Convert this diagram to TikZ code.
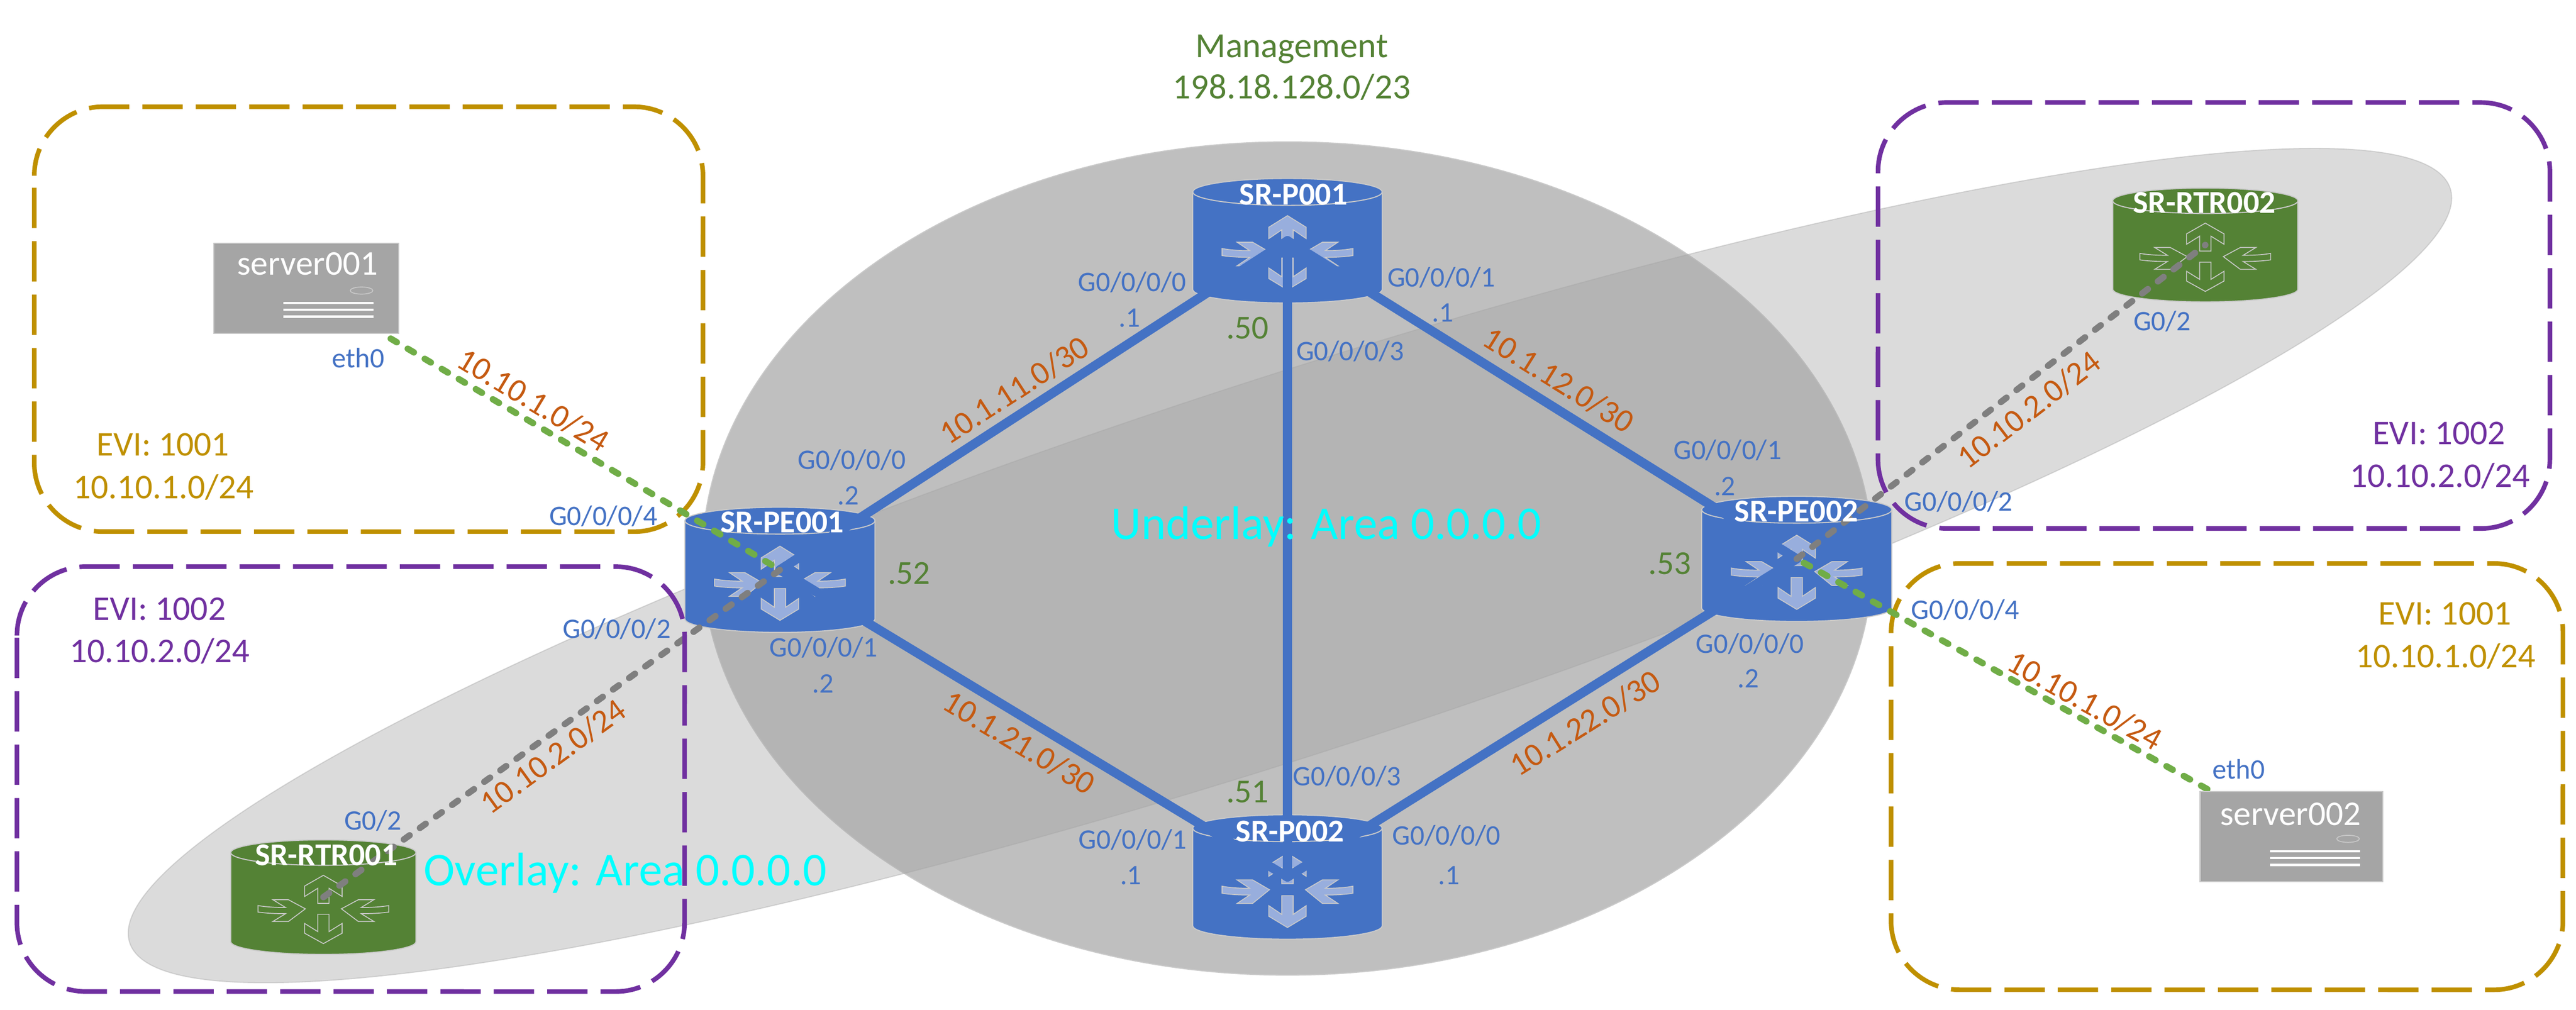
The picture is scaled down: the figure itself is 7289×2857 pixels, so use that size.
\documentclass[tikz,border=0pt]{standalone}
\usepackage{fontspec}
\setmainfont{Carlito}
\definecolor{cBlue}{HTML}{4472C4}
\definecolor{cLight}{HTML}{98AEDD}
\definecolor{cGreen}{HTML}{548235}
\definecolor{cLink}{HTML}{70AD47}
\definecolor{cGrey}{HTML}{7F7F7F}
\definecolor{cGold}{HTML}{BF9000}
\definecolor{cPurple}{HTML}{7030A0}
\definecolor{cOrange}{HTML}{C55A11}
\definecolor{cEdge}{HTML}{C9C9C9}
\definecolor{cSrv}{HTML}{A5A5A5}
\definecolor{cCyan}{HTML}{00FFFF}
\newcounter{lab}
\newcommand\lbl[4][]{\stepcounter{lab}\node[#1] (lab\arabic{lab}) at (#2,#3) {#4};}
\tikzset{
  lbase/.style={inner sep=0pt,outer sep=0pt},
  portlbl/.style={lbase,text=cBlue,font=\fontsize{22.76}{27}\selectfont},
  iplbl/.style={lbase,text=cGreen,font=\fontsize{27}{32}\selectfont},
  netlbl/.style={lbase,text=cOrange,font=\fontsize{26.4}{31}\selectfont,anchor=center},
  mgmtlbl/.style={lbase,text=cGreen,font=\fontsize{28.45}{34}\selectfont,anchor=base},
  evigold/.style={lbase,text=cGold,font=\fontsize{27.9}{34}\selectfont,anchor=base},
  evipurple/.style={lbase,text=cPurple,font=\fontsize{27.9}{34}\selectfont,anchor=base},
  arealbl/.style={lbase,text=cCyan,font=\fontsize{37.84}{45}\selectfont},
  namelbl/.style={lbase,text=white,font=\bfseries\fontsize{25.6}{30}\selectfont,anchor=base},
  srvlbl/.style={lbase,text=white,font=\fontsize{27.9}{33}\selectfont,anchor=base west},
  evibox/.style={line width=0.13cm,dash pattern=on 1.14cm off 0.37cm},
  corelink/.style={cBlue,line width=0.26cm,line cap=round},
  greylink/.style={cGrey,line width=0.18cm,line cap=round,dash pattern=on 0.2cm off 0.36cm},
  greenlink/.style={cLink,line width=0.18cm,line cap=round,dash pattern=on 0.2cm off 0.36cm},
  iconshape/.style={draw=cEdge,line width=0.025cm,line join=miter},
  srvbox/.style={rectangle,draw=cEdge,line width=0.03cm,fill=cSrv,minimum height=2.54cm,inner sep=0pt},
}
% #1 box options, #2 left, #3 top, #4 right, #5 bottom
\newcommand\eviframe[5]{\draw[evibox,#1] (#2,{#3+195}) arc[start angle=180,end angle=90,radius=1.95cm] -- ({#4-195},#3) arc[start angle=90,end angle=0,radius=1.95cm] -- (#4,{#5-195}) arc[start angle=0,end angle=-90,radius=1.95cm] -- ({#2+195},#5) arc[start angle=-90,end angle=-180,radius=1.95cm] -- cycle;}
% #1 name, #2 cx, #3 cy, #4 half width, #5 half height, #6 ry, #7 fill
\newcommand\cyl[7]{%
  \coordinate (#1) at (#2,#3);
  \begin{scope}[shift={(#1)}]
    \filldraw[draw=cEdge,line width=0.03cm,fill=#7] (-#4,{-#5+#6}) arc[start angle=180,end angle=0,x radius=#4*0.01cm,y radius=#6*0.01cm]
      -- (#4,{#5-#6}) arc[start angle=0,end angle=-180,x radius=#4*0.01cm,y radius=#6*0.01cm] -- cycle;
    \draw[draw=cEdge,line width=0.03cm] (-#4,{-#5+#6}) arc[start angle=180,end angle=360,x radius=#4*0.01cm,y radius=#6*0.01cm];
  \end{scope}}
% #1 cx, #2 cy, #3 yscale, #4 fill option
\newcommand\rticon[4]{%
  \begin{scope}[shift={(#1,#2)},yscale=#3]
    \path[iconshape,#4] (0,-103) -- (53,-70) -- (53,-38) -- (16,-63) -- (16,-17) -- (-16,-17) -- (-16,-63) -- (-53,-38) -- (-53,-70) -- cycle;
    \path[iconshape,#4] (0,107) -- (53,75) -- (53,45) -- (16,70) -- (16,17) -- (-16,17) -- (-16,70) -- (-53,45) -- (-53,75) -- cycle;
    \path[iconshape,#4] (-185,-10) .. controls (-160,-5) and (-130,-4) .. (-107,-4) -- (-143,-28) -- (-99,-28) -- (-51,0) -- (-99,39) -- (-143,39) -- (-107,15) .. controls (-130,15) and (-160,14) .. (-185,10) -- cycle;
    \path[iconshape,#4] (185,-10) .. controls (160,-5) and (130,-4) .. (107,-4) -- (143,-28) -- (99,-28) -- (51,0) -- (99,39) -- (143,39) -- (107,15) .. controls (130,15) and (160,14) .. (185,10) -- cycle;
  \end{scope}}
% #1 name, #2 left, #3 top, #4 width
\newcommand\server[4]{%
  \node[srvbox,minimum width=#4,anchor=north west] (#1) at (#2,#3) {};
  \begin{scope}[shift={(#1.north west)}]
    \draw[cEdge,line width=0.025cm] (420,135) ellipse[x radius=0.32cm,y radius=0.1cm];
    \foreach \yy in {170,189,209}{\draw[white,line width=0.065cm] (199,\yy) -- (454,\yy);}
  \end{scope}}
\begin{document}
\begin{tikzpicture}[x=0.01cm,y=-0.01cm]
\useasboundingbox (0,0) rectangle (7289,2857);
\fill[white] (0,0) rectangle (7289,2857);
% area ellipses
\filldraw[draw=cEdge,line width=0.03cm,fill=black!25] (3643,1580) ellipse[x radius=16.55cm,y radius=11.78cm];
\begin{scope}[shift={(3650,1600)},rotate=18]
\filldraw[draw=cSrv,draw opacity=.4,fill=cSrv,fill opacity=.4,line width=0.03cm] (0,0) ellipse[x radius=34.5cm,y radius=5.3cm];
\end{scope}
% gold frames
\eviframe{cGold,dash phase=0.36cm}{97}{302}{1989}{1504}
\eviframe{cGold,dash phase=0.15cm}{5351}{1594}{7252}{2800}
% routers
\cyl{p1}{3643}{681}{268}{176}{38}{cBlue}
\cyl{p2}{3643}{2481}{268}{176}{38}{cBlue}
\cyl{pe1}{2207}{1612}{269}{177}{38}{cBlue}
\cyl{pe2}{5084}{1581}{269}{177}{38}{cBlue}
\cyl{rt1}{915}{2538}{262}{162}{36}{cGreen}
\cyl{rt2}{6240}{693}{262}{161}{36}{cGreen}
\rticon{3643}{713}{1}{fill=cLight}
\rticon{3643}{2517}{1}{fill=cLight}
\rticon{2207}{1648}{1}{fill=cLight}
\rticon{5084}{1617}{1}{fill=cLight}
\rticon{915}{2571}{.92}{}
\rticon{6240}{726}{.92}{}
% left server
\server{s1}{603}{687}{5.23cm}
\coordinate (s2) at (6482,2365);
% core links
\draw[corelink] (pe1) -- (p1);
\draw[corelink] (p1) -- (pe2);
\draw[corelink] (pe1) -- (p2);
\draw[corelink] (p2) -- (pe2);
\draw[corelink] (p1) -- (p2);
% access links
\draw[greylink] (rt1) -- (pe1);
\draw[greylink] (pe2) -- (rt2);
\draw[greenlink,dash phase=0.29cm] (s1) -- (pe1);
\draw[greenlink,dash phase=0.33cm] (pe2) -- (s2);
% right server covers the end of its link
\server{s2box}{6224}{2238}{5.16cm}
% purple frames
\eviframe{cPurple,dash phase=0.14cm}{48}{1603}{1937}{2805}
\eviframe{cPurple,dash phase=0.2cm}{5314}{290}{7215}{1495}
% router names
\lbl[namelbl]{3660}{580}{SR-P001}
\lbl[namelbl]{3650}{2382}{SR-P002}
\lbl[namelbl]{2213}{1507}{SR-PE001}
\lbl[namelbl]{5083}{1476}{SR-PE002}
\lbl[namelbl]{923}{2448}{SR-RTR001}
\lbl[namelbl]{6237}{603}{SR-RTR002}
\lbl[srvlbl]{671}{778}{server001}
\lbl[srvlbl]{6282}{2335}{server002}
% top label
\lbl[mgmtlbl]{3655}{163}{Management}
\lbl[mgmtlbl]{3655}{279}{198.18.128.0/23}
% EVI labels
\lbl[evigold]{461}{1289}{EVI: 1001}
\lbl[evigold]{463}{1410}{10.10.1.0/24}
\lbl[evipurple]{451}{1755}{EVI: 1002}
\lbl[evipurple]{452}{1874}{10.10.2.0/24}
\lbl[evipurple]{6901}{1258}{EVI: 1002}
\lbl[evipurple]{6904}{1378}{10.10.2.0/24}
\lbl[evigold]{6918}{1768}{EVI: 1001}
\lbl[evigold]{6920}{1889}{10.10.1.0/24}
% area labels
\lbl[arealbl,anchor=base]{3753}{1525}{Underlay: Area 0.0.0.0}
\lbl[arealbl,anchor=base west]{1199}{2505}{Overlay: Area 0.0.0.0}
% port labels
\lbl[portlbl,anchor=base east]{3356}{825}{G0/0/0/0}
\lbl[portlbl,anchor=base east]{3226}{925}{.1}
\lbl[portlbl,anchor=base west]{3926}{811}{G0/0/0/1}
\lbl[portlbl,anchor=base west]{4052}{911}{.1}
\lbl[portlbl,anchor=base west]{3668}{1020}{G0/0/0/3}
\lbl[portlbl,anchor=base east]{2563}{1327}{G0/0/0/0}
\lbl[portlbl,anchor=base east]{2431}{1428}{.2}
\lbl[portlbl,anchor=base east]{2483}{1858}{G0/0/0/1}
\lbl[portlbl,anchor=base]{2329}{1960}{.2}
\lbl[portlbl,anchor=base east]{1860}{1486}{G0/0/0/4}
\lbl[portlbl,anchor=base east]{1898}{1805}{G0/0/0/2}
\lbl[portlbl,anchor=base east]{3358}{2402}{G0/0/0/1}
\lbl[portlbl,anchor=base east]{3230}{2502}{.1}
\lbl[portlbl,anchor=base west]{3659}{2223}{G0/0/0/3}
\lbl[portlbl,anchor=base west]{3940}{2390}{G0/0/0/0}
\lbl[portlbl,anchor=base west]{4070}{2502}{.1}
\lbl[portlbl,anchor=base east]{4911}{1401}{.2}
\lbl[portlbl,anchor=base east]{5041}{1300}{G0/0/0/1}
\lbl[portlbl,anchor=base east]{5104}{1848}{G0/0/0/0}
\lbl[portlbl,anchor=base]{4947}{1945}{.2}
\lbl[portlbl,anchor=base west]{5389}{1446}{G0/0/0/2}
\lbl[portlbl,anchor=base west]{5408}{1752}{G0/0/0/4}
\lbl[portlbl,anchor=base west]{939}{1040}{eth0}
\lbl[portlbl,anchor=base west]{6260}{2203}{eth0}
\lbl[portlbl,anchor=base west]{974}{2348}{G0/2}
\lbl[portlbl,anchor=base west]{6037}{935}{G0/2}
% loopback labels
\lbl[iplbl,anchor=base west]{3470}{959}{.50}
\lbl[iplbl,anchor=base west]{3470}{2271}{.51}
\lbl[iplbl,anchor=base west]{2512}{1652}{.52}
\lbl[iplbl,anchor=base east]{4785}{1625}{.53}
% subnet labels
\lbl[netlbl,rotate=-31]{1509}{1132}{10.10.1.0/24}
\lbl[netlbl,rotate=33]{2870}{1104}{10.1.11.0/30}
\lbl[netlbl,rotate=-32]{4410}{1075}{10.1.12.0/30}
\lbl[netlbl,rotate=-31]{2884}{2101}{10.1.21.0/30}
\lbl[netlbl,rotate=32]{4485}{2046}{10.1.22.0/30}
\lbl[netlbl,rotate=36]{1565}{2140}{10.10.2.0/24}
\lbl[netlbl,rotate=37.5]{5741}{1159}{10.10.2.0/24}
\lbl[netlbl,rotate=-29]{5899}{1982}{10.10.1.0/24}
\end{tikzpicture}
\end{document}
